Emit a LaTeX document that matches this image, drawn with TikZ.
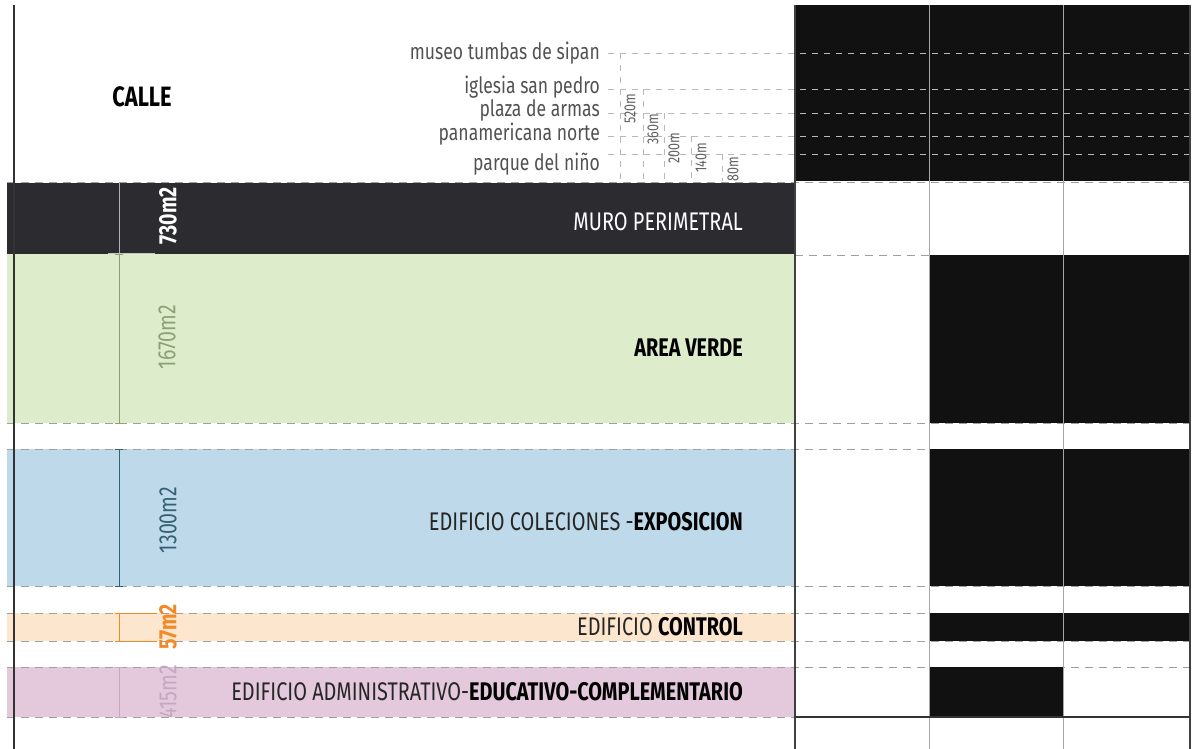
\documentclass[tikz,border=0pt]{standalone}
\usepackage{fontspec}
\setmainfont{Fira Sans}[FakeStretch=0.78]
\usetikzlibrary{positioning}

\definecolor{muro}{RGB}{43,43,48}
\definecolor{verde}{RGB}{221,237,204}
\definecolor{azul}{RGB}{190,218,234}
\definecolor{naranja}{RGB}{253,230,206}
\definecolor{malva}{RGB}{228,201,221}
\definecolor{cotaverde}{RGB}{140,160,118}
\definecolor{cotaazul}{RGB}{52,96,116}
\definecolor{cotanaranja}{RGB}{242,136,38}
\definecolor{cotamalva}{RGB}{196,168,192}
\definecolor{negro}{RGB}{17,17,17}

\begin{document}
\begin{tikzpicture}[
    x=1pt, y=-1pt,
    sep/.style={draw=gray!75, line width=1pt, dash pattern=on 8pt off 6pt},
    guide/.style={draw=gray!55, line width=0.8pt, dash pattern=on 6pt off 6pt},
    place/.style={anchor=base east, inner sep=0pt, text=black!68, font=\fontsize{22.5}{22.5}\selectfont},
    dist/.style={rotate=90, inner sep=0pt, text=black!62, font=\fontsize{16}{16}\selectfont},
    title/.style={anchor=east, inner sep=0pt, text=black!85, font=\fontsize{25.5}{25.5}\selectfont},
    area/.style={rotate=90, inner sep=0pt, font=\fontsize{25}{25}\selectfont},
    cota/.style={line width=1pt},
    gridline/.style={draw=gray!70, line width=1pt},
    frame/.style={draw=black!80, line width=2pt}
]
\useasboundingbox (0,0) rectangle (1196,749);

% Bands
\fill[muro] (7,183) rectangle (795,254);
\fill[verde] (7,254) rectangle (795,423);
\fill[azul] (7,449) rectangle (795,586);
\fill[naranja] (7,613) rectangle (795,641);
\fill[malva] (7,667) rectangle (795,717);

% Band limits
\foreach \y in {182,423,449,586,613,641,667,717}
  \draw[sep] (7,\y) -- (1190,\y);
\draw[sep] (795,255) -- (1190,255);

% Right grid
\fill[negro] (795,5) rectangle (1190,181);
\fill[negro] (929,255) rectangle (1190,423);
\fill[negro] (929,449) rectangle (1190,586);
\fill[negro] (929,613) rectangle (1190,641);
\fill[negro] (929,667) rectangle (1063,717);

% Street
\node[inner sep=0pt, text=black, font=\fontsize{28}{28}\selectfont\bfseries] (calle) at (142,97) {CALLE};

\node[place] (museo) at (600,60) {museo tumbas de sipan};
\node[place] (iglesia) at (600,94) {iglesia san pedro};
\node[place] (plaza) at (600,117) {plaza de armas};
\node[place] (panam) at (600,140) {panamericana norte};
\node[place] (parque) at (600,170) {parque del niño};

\foreach \y/\x in {53/620,89/643,113/664,136/691,154/722}{
  \draw[guide] (608,\y) -- (1190,\y);
  \draw[guide] (\x,\y) -- (\x,181);
}

\node[dist] (d520) at (630,109) {520m};
\node[dist] (d360) at (653,129) {360m};
\node[dist] (d200) at (674,148) {200m};
\node[dist] (d140) at (701,158) {140m};
\node[dist] (d80) at (733,169) {80m};

% Grid lines
\draw[gridline] (929,5) -- (929,749);
\draw[gridline] (1063,5) -- (1063,749);
\draw[frame, draw=black!75] (795,5) -- (795,749);
\draw[frame, draw=black!75] (1190,5) -- (1190,749);
\draw[frame] (795,717) -- (1190,717);
\draw[frame] (14,5) -- (14,749);

% Band names
\node[title, text=white] (muroT) at (743,222) {MURO PERIMETRAL};
\node[title, text=black] (verdeT) at (743,348) {\bfseries AREA VERDE};
\node[title] (azulT) at (743,522) {EDIFICIO COLECIONES -\textcolor{black}{\bfseries EXPOSICION}};
\node[title] (naranjaT) at (743,627) {EDIFICIO \textcolor{black}{\bfseries CONTROL}};
\node[title] (malvaT) at (743,692) {EDIFICIO ADMINISTRATIVO-\textcolor{black}{\bfseries EDUCATIVO-COMPLEMENTARIO}};

% Areas
\draw[cota, gray!60] (119,183) -- (119,253);
\draw[cota, gray!45] (108,253) -- (155,253);
\draw[cota, cotaverde] (119,254) -- (119,423) (115,254) -- (123,254) (115,423) -- (123,423);
\draw[cota, cotaazul] (119,449) -- (119,586) (115,449) -- (123,449) (115,586) -- (123,586);
\draw[cota, cotanaranja] (119,613) -- (119,641) (115,613) -- (157,613) (115,641) -- (157,641);
\draw[cota, cotamalva] (119,667) -- (119,717) (115,667) -- (123,667) (115,717) -- (123,717);

\node[area, text=white, font=\fontsize{25}{25}\selectfont\bfseries] (a730) at (168,216) {730m2};
\node[area, text=cotaverde] (a1670) at (167,337) {1670m2};
\node[area, text=cotaazul] (a1300) at (168,520) {1300m2};
\node[area, text=cotanaranja, font=\fontsize{25}{25}\selectfont\bfseries] (a57) at (168,627) {57m2};
\node[area, text=cotamalva] (a415) at (168,692) {415m2};

\end{tikzpicture}
\end{document}
